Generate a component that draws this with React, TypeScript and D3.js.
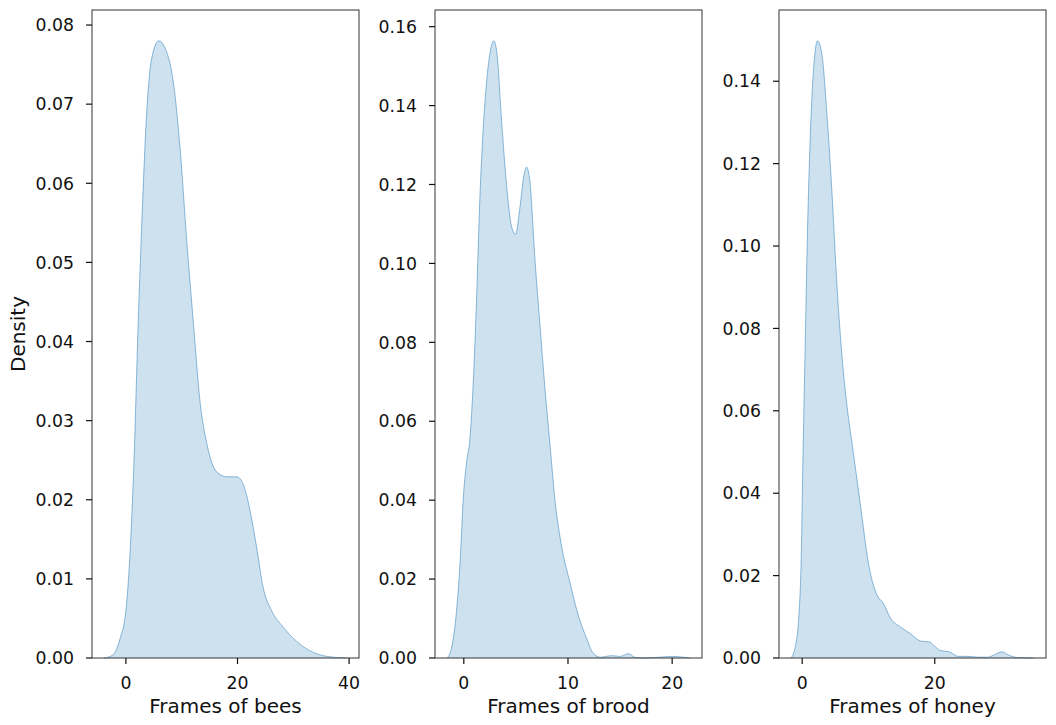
import React, { useEffect, useRef } from 'react';
import * as d3 from 'd3';

// KDE curves, sampled as [frames, density]
const beesX = [-3.9, -2.3, -1.07, 0, 0.72, 1.44, 2.2, 2.8, 3.7, 4.6, 5.9, 7.3, 8.5, 9.7, 10.9, 12.1, 13.3, 14.5, 16.3, 18.1, 19.9, 21.0, 22.2, 23.4, 24.6, 26.1, 28.2, 30.6, 33.6, 37.2, 39.6];
const beesD = [0, 0.0004, 0.0024, 0.006, 0.013, 0.0247, 0.0423, 0.054, 0.0686, 0.0757, 0.078, 0.0766, 0.0728, 0.0645, 0.0528, 0.0423, 0.0323, 0.0271, 0.0235, 0.0229, 0.0229, 0.022, 0.0188, 0.0141, 0.0089, 0.006, 0.0039, 0.0021, 0.0007, 0.0001, 0];

const broodX = [-1.6, -1.18, -0.7, -0.32, -0.06, 0.26, 0.58, 0.9, 1.22, 1.54, 1.86, 2.18, 2.56, 2.88, 3.2, 3.62, 4.1, 4.58, 4.97, 5.38, 5.77, 6.03, 6.35, 6.83, 7.3, 7.79, 8.27, 8.75, 9.39, 10.2, 11.0, 11.8, 12.4, 13.1, 14.2, 15.0, 15.8, 16.4, 17.2, 18.8, 20.0, 21.7];
const broodD = [0, 0.0025, 0.0119, 0.026, 0.04, 0.0495, 0.0553, 0.0695, 0.0906, 0.1164, 0.134, 0.1458, 0.154, 0.1564, 0.1528, 0.1364, 0.12, 0.1094, 0.1074, 0.114, 0.1223, 0.1244, 0.1206, 0.101, 0.0847, 0.0683, 0.0542, 0.04, 0.0283, 0.019, 0.0107, 0.0049, 0.0013, 0.0002, 0.0006, 0.0004, 0.0011, 0.0002, 0, 0.0002, 0.0004, 0];

const honeyX = [-1.67, -1.02, -0.5, -0.14, 0.1, 0.45, 0.8, 1.21, 1.72, 2.32, 2.98, 3.74, 4.5, 5.25, 6.0, 6.77, 7.53, 8.3, 9.05, 9.8, 10.56, 11.3, 12.3, 13.3, 14.85, 16.4, 17.9, 19.2, 19.9, 20.9, 22.2, 23.5, 25.0, 26.5, 28.0, 29.0, 30.1, 31.3, 32.5, 34.95];
const honeyD = [0, 0.003, 0.0103, 0.0249, 0.0474, 0.0756, 0.1037, 0.1262, 0.1431, 0.1498, 0.1464, 0.1318, 0.1127, 0.0902, 0.0733, 0.061, 0.052, 0.0429, 0.0339, 0.0249, 0.0187, 0.0153, 0.0131, 0.0097, 0.0075, 0.0058, 0.0041, 0.0039, 0.003, 0.0018, 0.0015, 0.0004, 0.0004, 0.0002, 0.0002, 0.0008, 0.0015, 0.0006, 0.0001, 0];

const labels = ['Frames of bees', 'Frames of brood', 'Frames of honey'];
const xTicks = [[0, 20, 40], [0, 10, 20], [0, 20]];
const yTicks = [
  [0, 0.01, 0.02, 0.03, 0.04, 0.05, 0.06, 0.07, 0.08],
  [0, 0.02, 0.04, 0.06, 0.08, 0.1, 0.12, 0.14, 0.16],
  [0, 0.02, 0.04, 0.06, 0.08, 0.1, 0.12, 0.14],
];
const xs = [beesX, broodX, honeyX];
const ds = [beesD, broodD, honeyD];

const W = 1056;
const H = 725;
const panelLeft = [92, 435, 779];
const panelWidth = 267;
const top = 10;
const bottom = 658;
const font = 'DejaVu Sans, sans-serif';
const ink = '#111';

const App: React.FC = () => {
  const svgRef = useRef<SVGSVGElement>(null);

  useEffect(() => {
    if (!svgRef.current) return;
    const svg = d3.select(svgRef.current);
    svg.selectAll('*').remove();

    for (let p = 0; p < 3; p++) {
      const xv = xs[p];
      const dv = ds[p];
      const pts = xv.map((x, i) => [x, dv[i]] as [number, number]);

      // 5% padding on x, like matplotlib's default margins
      const span = xv[xv.length - 1] - xv[0];
      const x = d3.scaleLinear()
        .domain([xv[0] - span * 0.05, xv[xv.length - 1] + span * 0.05])
        .range([panelLeft[p], panelLeft[p] + panelWidth]);
      const y = d3.scaleLinear()
        .domain([0, (d3.max(dv) || 1) * 1.05])
        .range([bottom, top]);

      const g = svg.append('g');

      const area = d3.area<[number, number]>()
        .x(d => x(d[0]))
        .y0(y(0))
        .y1(d => y(d[1]))
        .curve(d3.curveMonotoneX);
      const line = d3.line<[number, number]>()
        .x(d => x(d[0]))
        .y(d => y(d[1]))
        .curve(d3.curveMonotoneX);

      g.append('path').attr('d', area(pts)).attr('fill', '#1f77b4').attr('fill-opacity', 0.22);
      g.append('path').attr('d', line(pts)).attr('fill', 'none')
        .attr('stroke', '#1f77b4').attr('stroke-opacity', 0.55).attr('stroke-width', 0.9);

      // frame
      g.append('rect')
        .attr('x', panelLeft[p]).attr('y', top)
        .attr('width', panelWidth).attr('height', bottom - top)
        .attr('fill', 'none').attr('stroke', '#333').attr('stroke-width', 1);

      // y ticks
      yTicks[p].forEach(t => {
        g.append('line')
          .attr('x1', panelLeft[p] - 6).attr('x2', panelLeft[p])
          .attr('y1', y(t)).attr('y2', y(t))
          .attr('stroke', ink).attr('stroke-width', 1.2);
        g.append('text')
          .attr('x', panelLeft[p] - 18).attr('y', y(t))
          .attr('dy', '0.36em')
          .attr('text-anchor', 'end')
          .attr('font-family', font).attr('font-size', 17.3)
          .attr('fill', ink)
          .text(d3.format('.2f')(t));
      });

      // x ticks
      xTicks[p].forEach(t => {
        g.append('line')
          .attr('x1', x(t)).attr('x2', x(t))
          .attr('y1', bottom).attr('y2', bottom + 6)
          .attr('stroke', ink).attr('stroke-width', 1.2);
        g.append('text')
          .attr('x', x(t)).attr('y', bottom + 25)
          .attr('dy', '0.36em')
          .attr('text-anchor', 'middle')
          .attr('font-family', font).attr('font-size', 17.3)
          .attr('fill', ink)
          .text(t);
      });

      g.append('text')
        .attr('x', panelLeft[p] + panelWidth / 2).attr('y', 713)
        .attr('text-anchor', 'middle')
        .attr('font-family', font).attr('font-size', 20)
        .attr('fill', ink)
        .text(labels[p]);
    }

    svg.append('text')
      .attr('transform', `translate(25,${(top + bottom) / 2}) rotate(-90)`)
      .attr('text-anchor', 'middle')
      .attr('font-family', font).attr('font-size', 20)
      .attr('fill', ink)
      .text('Density');
  }, []);

  return (
    <svg
      ref={svgRef}
      width={W}
      height={H}
      style={{ position: 'absolute', left: 0, top: 0, background: '#fff' }}
    />
  );
};

export default App;
